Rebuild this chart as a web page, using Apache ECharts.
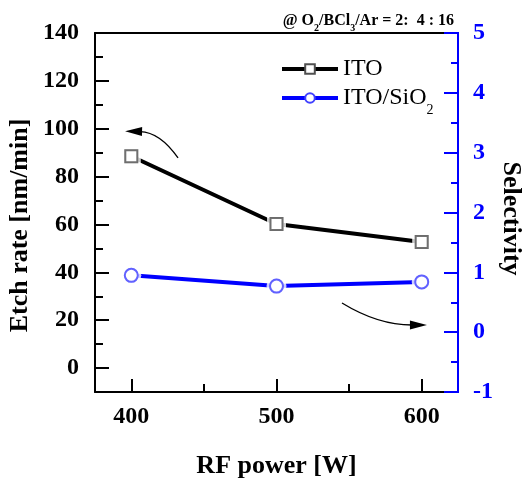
<!DOCTYPE html>
<html><head><meta charset="utf-8">
<script src="https://cdn.jsdelivr.net/npm/echarts@6/dist/echarts.min.js"></script>
<style>html,body{margin:0;padding:0;background:#fff}#c{width:523px;height:478px}</style>
</head><body><div id="c"></div>
<script>
const rfPower = [400, 500, 600];
const itoEtchRate = [88.5, 60.2, 52.7];
const selectivity = [0.95, 0.77, 0.84];
const xMajorTicks = [400, 500, 600];
const xMinorTicks = [450, 550];
const yMajorTicks = [0, 20, 40, 60, 80, 100, 120, 140];
const yMinorTicks = [-10, 10, 30, 50, 70, 90, 110, 130];

const F = 'Liberation Serif';
const BLUE = '#0000ff';
const pairs = (xs, ys) => xs.map((x, i) => [x, ys[i]]);
const itoData = pairs(rfPower, itoEtchRate);
const selData = pairs(rfPower, selectivity);

const chart = echarts.init(document.getElementById('c'), null, {renderer: 'canvas'});
const xBase = {type: 'value', min: 375, max: 625, gridIndex: 0, splitLine: {show: false}};
const yBase = {type: 'value', min: -10, max: 140, splitLine: {show: false}};
const tickLabel = {fontFamily: F, fontWeight: 'bold', fontSize: 24, color: '#000'};
const nameStyle = {fontFamily: F, fontWeight: 'bold', fontSize: 26, color: '#000'};

chart.setOption({
  animation: false,
  backgroundColor: '#fff',
  title: {
    text: '{a|@ O}{s|2}{a|/BCl}{s|3}{a|/Ar = 2:  4 : 16}',
    right: 64, top: 4,
    textStyle: {
      fontFamily: F, fontWeight: 'bold', fontSize: 16, color: '#000',
      rich: {
        a: {fontFamily: F, fontWeight: 'bold', fontSize: 16, color: '#000', verticalAlign: 'middle'},
        s: {fontFamily: F, fontWeight: 'bold', fontSize: 10, color: '#000', verticalAlign: 'middle', padding: [14, 0, 0, 0]}
      }
    }
  },
  legend: [
    {
      data: ['ITO'], left: 280, top: 57, padding: 0, itemWidth: 56, itemHeight: 12,
      selectedMode: false, lineStyle: {width: 4},
      textStyle: {fontFamily: F, fontSize: 24, color: '#000'}
    },
    {
      data: ['ITO/SiO2'], left: 280, top: 86, padding: 0, itemWidth: 56, itemHeight: 12,
      selectedMode: false, lineStyle: {width: 4},
      formatter: () => '{a|ITO/SiO}{s|2}',
      textStyle: {
        fontFamily: F, fontSize: 24, color: '#000',
        rich: {
          a: {fontFamily: F, fontSize: 24, color: '#000', verticalAlign: 'middle'},
          s: {fontFamily: F, fontSize: 14, color: '#000', verticalAlign: 'middle', padding: [24, 0, 0, 0]}
        }
      }
    }
  ],
  grid: {left: 95, right: 65, top: 33, bottom: 86, containLabel: false, outerBoundsMode: 'none'},
  xAxis: [
    Object.assign({}, xBase, {
      position: 'bottom',
      name: 'RF power [W]', nameLocation: 'middle', nameGap: 61, nameMoveOverlap: false,
      nameTextStyle: nameStyle,
      axisLine: {show: true, onZero: false, lineStyle: {color: '#000', width: 2}},
      axisTick: {show: true, inside: true, length: 13, lineStyle: {color: '#000', width: 2}, customValues: xMajorTicks},
      axisLabel: Object.assign({margin: 13, customValues: xMajorTicks}, tickLabel)
    }),
    Object.assign({}, xBase, {
      position: 'bottom',
      axisLine: {show: false, onZero: false},
      axisTick: {show: true, inside: true, length: 8, lineStyle: {color: '#000', width: 2}, customValues: xMinorTicks},
      axisLabel: {show: false}
    }),
    Object.assign({}, xBase, {
      position: 'top',
      axisLine: {show: true, onZero: false, lineStyle: {color: '#000', width: 2}},
      axisTick: {show: false},
      axisLabel: {show: false}
    })
  ],
  yAxis: [
    Object.assign({}, yBase, {
      position: 'left',
      name: 'Etch rate [nm/min]', nameLocation: 'middle', nameGap: 62, nameRotate: 90, nameMoveOverlap: false,
      nameTextStyle: Object.assign({padding: [0, 26, 0, 0]}, nameStyle),
      axisLine: {show: true, onZero: false, lineStyle: {color: '#000', width: 2}},
      axisTick: {show: true, inside: true, length: 14, lineStyle: {color: '#000', width: 2}, customValues: yMajorTicks},
      axisLabel: Object.assign({margin: 16, customValues: yMajorTicks}, tickLabel)
    }),
    Object.assign({}, yBase, {
      position: 'left',
      axisLine: {show: false, onZero: false},
      axisTick: {show: true, inside: true, length: 8, lineStyle: {color: '#000', width: 2}, customValues: yMinorTicks},
      axisLabel: {show: false}
    }),
    {
      type: 'value', position: 'right', min: -1, max: 5, interval: 1,
      splitLine: {show: false},
      name: 'Selectivity', nameLocation: 'middle', nameGap: 40, nameRotate: -90, nameMoveOverlap: false,
      nameTextStyle: Object.assign({padding: [0, 0, 0, 12]}, nameStyle),
      axisLine: {show: true, onZero: false, lineStyle: {color: BLUE, width: 2}},
      axisTick: {show: true, inside: true, length: 14, lineStyle: {color: BLUE, width: 2}},
      minorTick: {show: true, splitNumber: 2, length: 7, lineStyle: {color: BLUE, width: 2}},
      axisLabel: Object.assign({}, tickLabel, {color: BLUE, margin: 15})
    }
  ],
  series: [
    {
      name: 'ITO', type: 'line', xAxisIndex: 0, yAxisIndex: 0, data: itoData, z: 2,
      symbol: 'emptyRect', symbolSize: 12,
      lineStyle: {color: '#000', width: 4},
      itemStyle: {color: '#505050', borderWidth: 1.3}
    },
    {
      name: 'itoHalo', type: 'scatter', xAxisIndex: 0, yAxisIndex: 0, data: itoData, z: 3,
      symbol: 'rect', symbolSize: 19, itemStyle: {color: '#fff'}, silent: true
    },
    {
      name: 'itoMark', type: 'scatter', xAxisIndex: 0, yAxisIndex: 0, data: itoData, z: 4,
      symbol: 'emptyRect', symbolSize: 12, itemStyle: {color: '#505050', borderWidth: 1.3}
    },
    {
      name: 'ITO/SiO2', type: 'line', xAxisIndex: 0, yAxisIndex: 2, data: selData, z: 2,
      symbol: 'emptyCircle', symbolSize: 13,
      lineStyle: {color: BLUE, width: 4},
      itemStyle: {color: '#4040ff', borderWidth: 1.3}
    },
    {
      name: 'selHalo', type: 'scatter', xAxisIndex: 0, yAxisIndex: 2, data: selData, z: 3,
      symbol: 'circle', symbolSize: 20, itemStyle: {color: '#fff'}, silent: true
    },
    {
      name: 'selMark', type: 'scatter', xAxisIndex: 0, yAxisIndex: 2, data: selData, z: 4,
      symbol: 'emptyCircle', symbolSize: 13, itemStyle: {color: '#4040ff', borderWidth: 1.3}
    }
  ]
});

// annotation arrows (in left-axis data coordinates) and right-axis frame accents
function px(p) { return chart.convertToPixel({xAxisIndex: 0, yAxisIndex: 0}, p); }
function arrow(tail, ctrl, tip) {
  const t = px(tail), c = px(ctrl), h = px(tip);
  const dx = h[0] - c[0], dy = h[1] - c[1], L = Math.hypot(dx, dy);
  const ux = dx / L, uy = dy / L, hl = 17, hw = 4.5;
  const bx = h[0] - ux * hl, by = h[1] - uy * hl;
  return [
    {type: 'bezierCurve', shape: {x1: t[0], y1: t[1], cpx1: c[0], cpy1: c[1], x2: bx + ux * 2, y2: by + uy * 2},
     style: {stroke: '#000', lineWidth: 1.3, fill: null}, z: 10},
    {type: 'polygon', shape: {points: [[h[0], h[1]], [bx - uy * hw, by + ux * hw], [bx + uy * hw, by - ux * hw]]},
     style: {fill: '#000'}, z: 10}
  ];
}
const tl = px([625, 140]), br = px([625, -10]);
chart.setOption({
  graphic: [
    ...arrow([432.2, 87.8], [419.8, 98.6], [395.7, 99.0]),
    ...arrow([545.1, 27.2], [569.9, 18.0], [603.6, 18.0]),
    {type: 'line', shape: {x1: tl[0] - 13, y1: tl[1], x2: tl[0] + 1, y2: tl[1]}, style: {stroke: BLUE, lineWidth: 2}, z: 11},
    {type: 'line', shape: {x1: br[0] - 13, y1: br[1], x2: br[0] + 1, y2: br[1]}, style: {stroke: BLUE, lineWidth: 2}, z: 11}
  ]
});
</script></body></html>
